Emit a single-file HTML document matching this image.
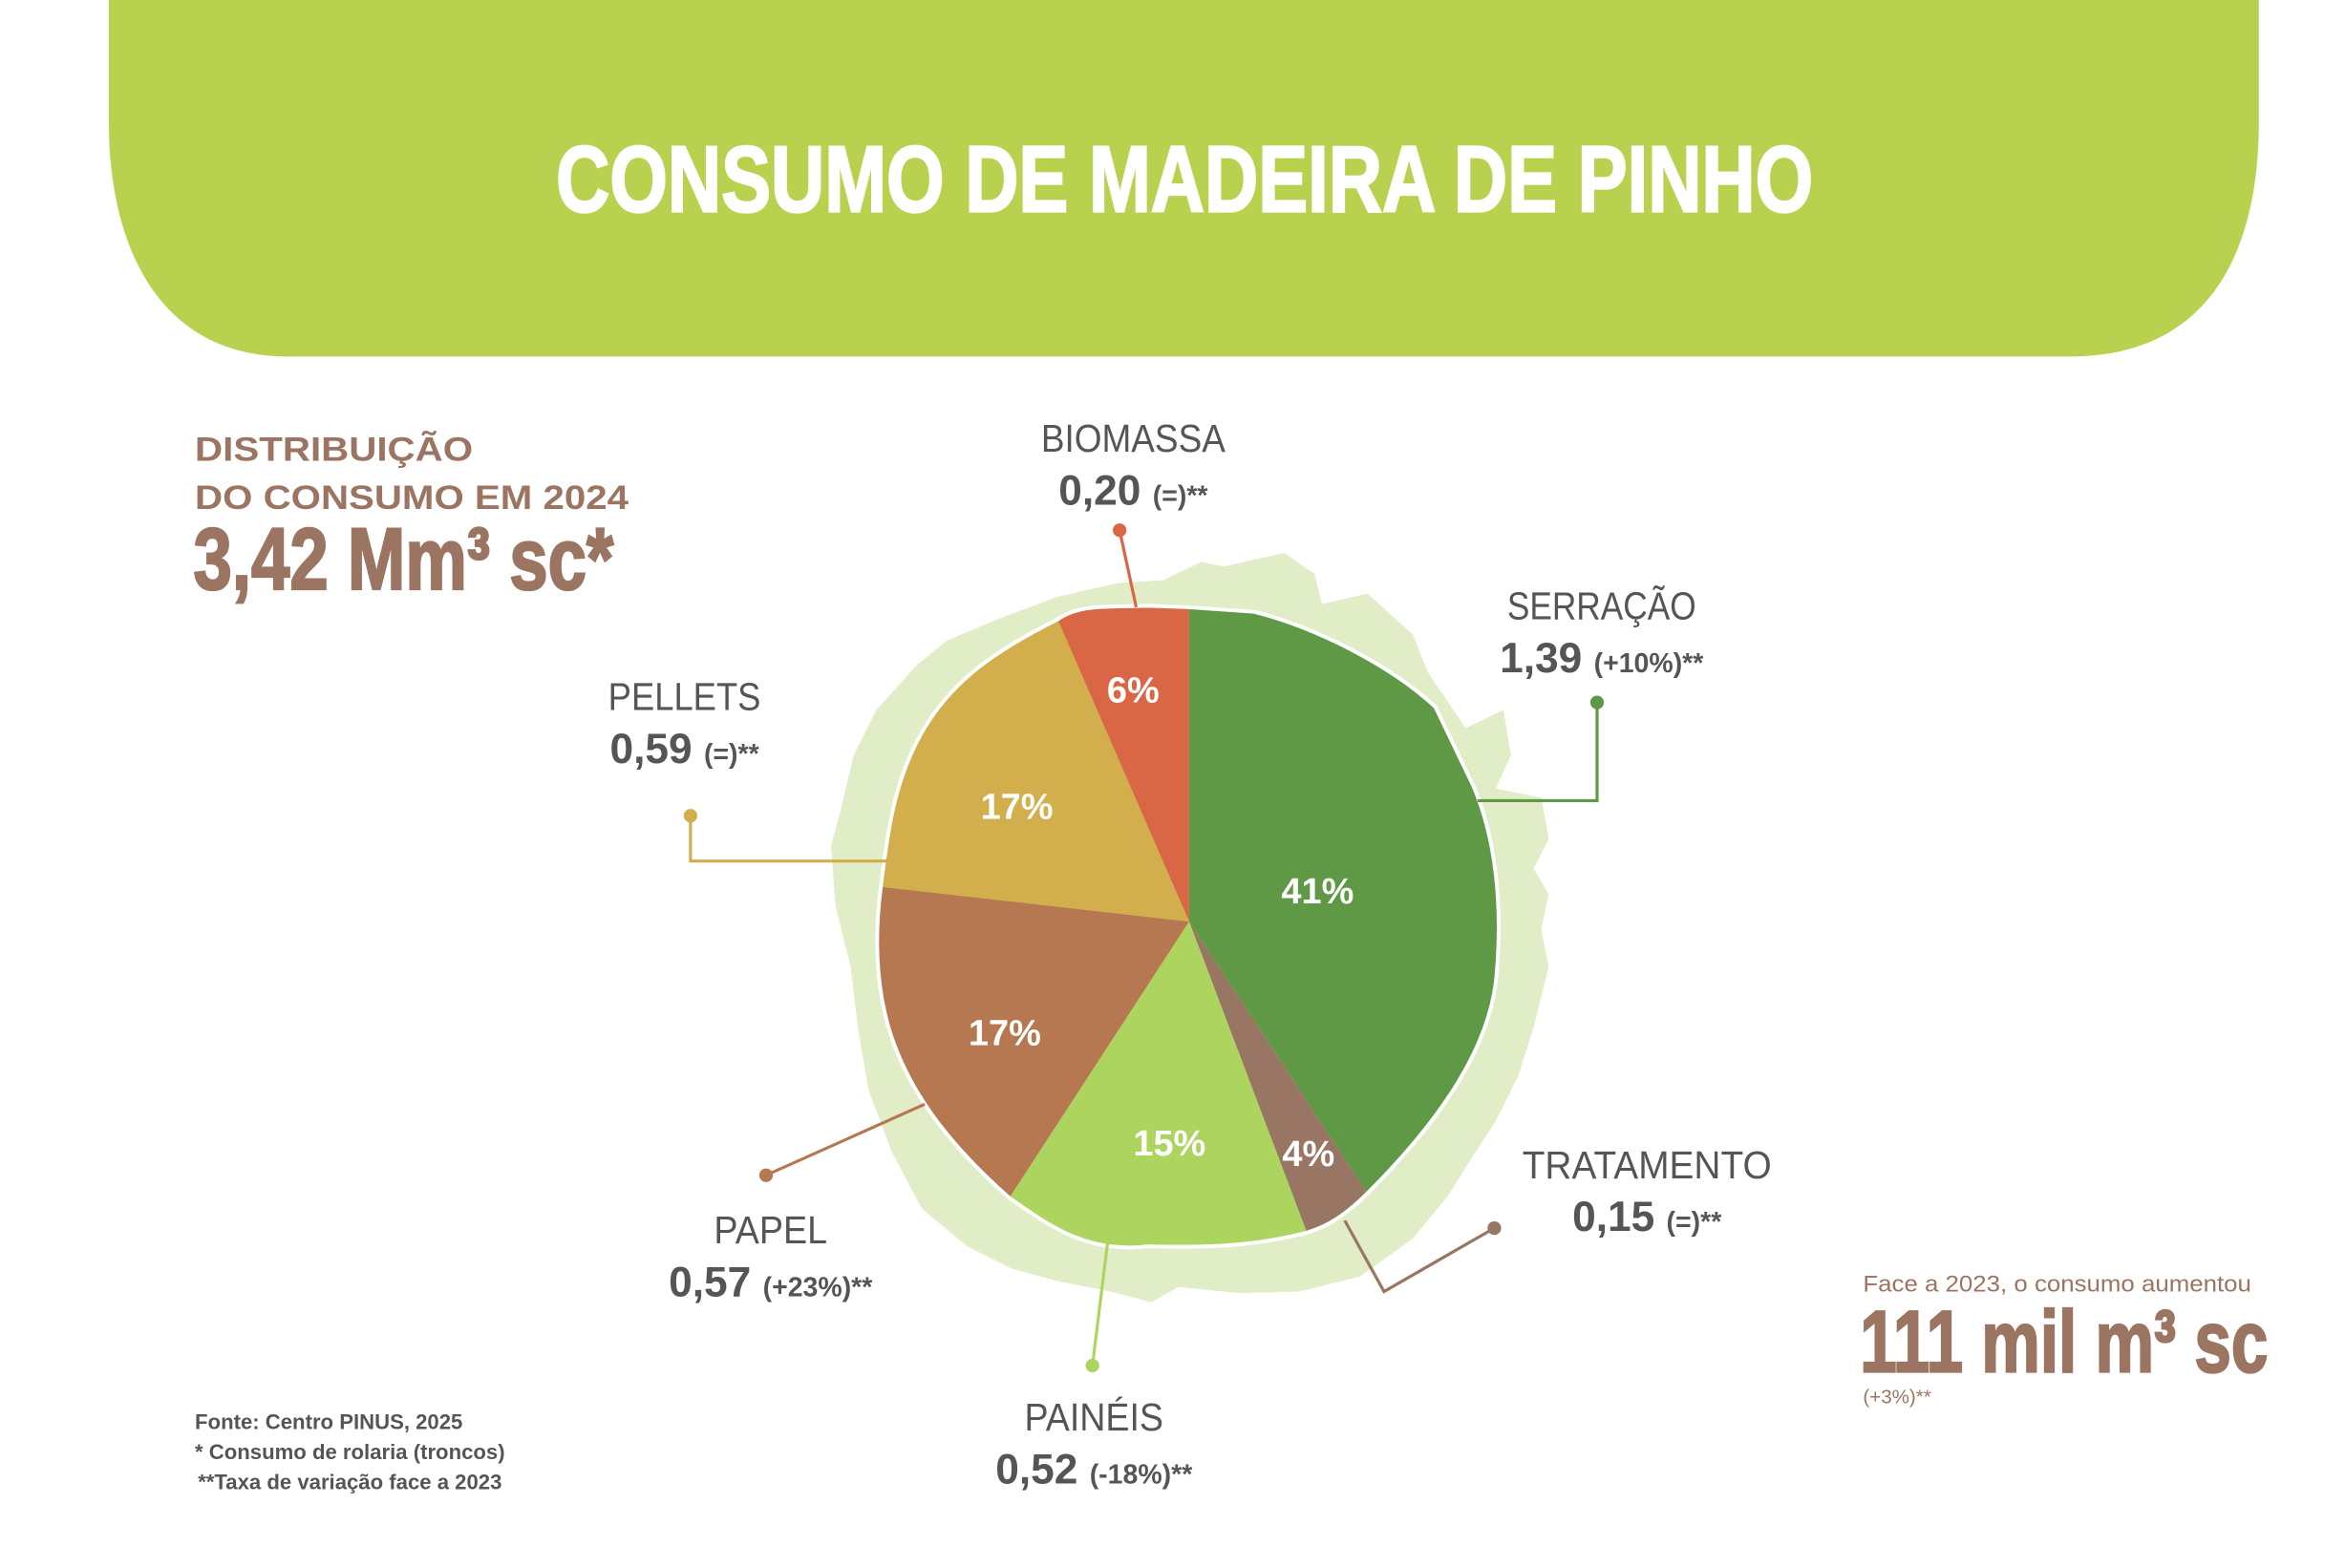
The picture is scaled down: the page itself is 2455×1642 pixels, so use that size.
<!DOCTYPE html>
<html><head><meta charset="utf-8"><style>
html,body{margin:0;padding:0;background:#fff;}
svg{display:block;}
text{font-family:"Liberation Sans",sans-serif;}
.n{font-family:"Liberation Sans Narrow","Liberation Sans",sans-serif;}
</style></head><body>
<svg width="2455" height="1642" viewBox="0 0 1552 1038" preserveAspectRatio="none" xmlns="http://www.w3.org/2000/svg">
<rect width="1552" height="1038" fill="#fff"/>
<!-- header -->
<path d="M72 0 H1495 V80 C1495 170 1460 236 1370 236 H190 C110 236 72 170 72 80 Z" fill="#b8d24f"/>
<text class="n" x="368" y="140" font-size="62" font-weight="bold" fill="#fff" stroke="#fff" stroke-width="1.5" textLength="832" lengthAdjust="spacingAndGlyphs">CONSUMO DE MADEIRA DE PINHO</text>

<!-- left header text -->
<text x="129" y="305" font-size="22" font-weight="bold" fill="#9c7462" textLength="184" lengthAdjust="spacingAndGlyphs">DISTRIBUIÇÃO</text>
<text x="129" y="337" font-size="22" font-weight="bold" fill="#9c7462" textLength="287" lengthAdjust="spacingAndGlyphs">DO CONSUMO EM 2024</text>
<text class="n" x="128" y="390" font-size="58" font-weight="bold" fill="#9c7462" stroke="#9c7462" stroke-width="1.5" textLength="278" lengthAdjust="spacingAndGlyphs">3,42 Mm³ sc*</text>

<!-- background blob -->
<path d="M810 375 L850 366 L870 380 L875 400 L905 393 L935 420 L945 445 L970 482 L995 470 L1000 500 L990 522 L1020 528 L1025 555 L1015 575 L1025 592 L1020 615 L1025 640 L1015 680 L1005 712 L990 742 L975 765 L958 792 L935 820 L900 845 L860 855 L820 856 L780 852 L762 862 L735 855 L700 848 L670 840 L640 825 L610 800 L590 762 L575 722 L568 682 L563 640 L553 600 L550 560 L556 538 L565 500 L580 470 L607 440 L627 424 L660 410 L700 395 L740 386 L770 384 L795 372 Z" fill="#e1edc6"/>

<!-- pie slices -->
<g stroke="none">
<path d="M787 610 L787 402 L830 405 C870 415 920 440 950 468 L975 520 C990 555 995 600 990 650 C985 690 960 735 905 790 Z" fill="#5f9945"/>
<path d="M787 610 L905 790 C890 805 878 812 865 816 Z" fill="#997563"/>
<path d="M787 610 L865 816 C830 825 800 826 760 825 C720 830 695 812 668 793 Z" fill="#add45e"/>
<path d="M787 610 L668 793 C625 755 600 720 588 680 C578 645 580 610 583 587 Z" fill="#b57851"/>
<path d="M787 610 L583 587 C588 545 593 515 610 485 C630 450 660 430 700 410 Z" fill="#d2af4c"/>
<path d="M787 610 L700 410 C715 400 730 402 760 401 L787 402 Z" fill="#d96746"/>
</g>
<path d="M787 402 L830 405 C870 415 920 440 950 468 L975 520 C990 555 995 600 990 650 C985 690 960 735 905 790 C890 805 878 812 865 816 C830 825 800 826 760 825 C720 830 695 812 668 793 C625 755 600 720 588 680 C578 645 580 610 583 587 C588 545 593 515 610 485 C630 450 660 430 700 410 C715 400 730 402 760 401 Z" fill="none" stroke="#fff" stroke-width="2.5"/>

<g font-size="24" font-weight="bold" fill="#fff" text-anchor="middle">
<text x="750" y="465">6%</text>
<text x="872" y="598">41%</text>
<text x="673" y="542">17%</text>
<text x="665" y="692">17%</text>
<text x="774" y="765">15%</text>
<text x="866" y="772">4%</text>
</g>

<!-- leaders -->
<g fill="none" stroke-width="2">
<polyline points="741,351 752,402" stroke="#d96746"/>
<polyline points="1057,465 1057,530 978,530" stroke="#5f9945"/>
<polyline points="457,540 457,570 588,570" stroke="#d2af4c"/>
<polyline points="507,778 612,731" stroke="#b57851"/>
<polyline points="723,904 733,823" stroke="#add45e"/>
<polyline points="989,813 916,855 890,808" stroke="#997563"/>
</g>
<circle cx="741" cy="351" r="4.5" fill="#d96746"/>
<circle cx="1057" cy="465" r="4.5" fill="#5f9945"/>
<circle cx="457" cy="540" r="4.5" fill="#d2af4c"/>
<circle cx="507" cy="778" r="4.5" fill="#b57851"/>
<circle cx="723" cy="904" r="4.5" fill="#add45e"/>
<circle cx="989" cy="813" r="4.5" fill="#997563"/>

<!-- labels -->
<g fill="#555" text-anchor="middle">
<text x="750" y="299" font-size="26" textLength="122" lengthAdjust="spacingAndGlyphs">BIOMASSA</text>
<text x="750" y="334" font-size="28" font-weight="bold">0,20 <tspan font-size="18">(=)**</tspan></text>
<text x="1060" y="410" font-size="26" textLength="125" lengthAdjust="spacingAndGlyphs">SERRAÇÃO</text>
<text x="1060" y="445" font-size="28" font-weight="bold">1,39 <tspan font-size="18">(+10%)**</tspan></text>
<text x="453" y="470" font-size="26" textLength="101" lengthAdjust="spacingAndGlyphs">PELLETS</text>
<text x="453" y="505" font-size="28" font-weight="bold">0,59 <tspan font-size="18">(=)**</tspan></text>
<text x="510" y="823" font-size="26" textLength="75" lengthAdjust="spacingAndGlyphs">PAPEL</text>
<text x="510" y="858" font-size="28" font-weight="bold">0,57 <tspan font-size="18">(+23%)**</tspan></text>
<text x="724" y="947" font-size="26" textLength="92" lengthAdjust="spacingAndGlyphs">PAINÉIS</text>
<text x="724" y="982" font-size="28" font-weight="bold">0,52 <tspan font-size="18">(-18%)**</tspan></text>
<text x="1090" y="780" font-size="26" textLength="165" lengthAdjust="spacingAndGlyphs">TRATAMENTO</text>
<text x="1090" y="815" font-size="28" font-weight="bold">0,15 <tspan font-size="18">(=)**</tspan></text>
</g>

<!-- footer -->
<g fill="#555" font-size="14" font-weight="bold">
<text x="129" y="946">Fonte: Centro PINUS, 2025</text>
<text x="129" y="966">* Consumo de rolaria (troncos)</text>
<text x="131" y="986"> **Taxa de variação face a 2023</text>
</g>

<!-- right -->
<text x="1233" y="855" font-size="15" fill="#9c7462" textLength="257" lengthAdjust="spacingAndGlyphs">Face a 2023, o consumo aumentou</text>
<text class="n" x="1231" y="908" font-size="58" font-weight="bold" fill="#9c7462" stroke="#9c7462" stroke-width="1.5" textLength="270" lengthAdjust="spacingAndGlyphs">111 mil m³ sc</text>
<text x="1233" y="929" font-size="13" fill="#9c7462">(+3%)**</text>
</svg>
</body></html>
